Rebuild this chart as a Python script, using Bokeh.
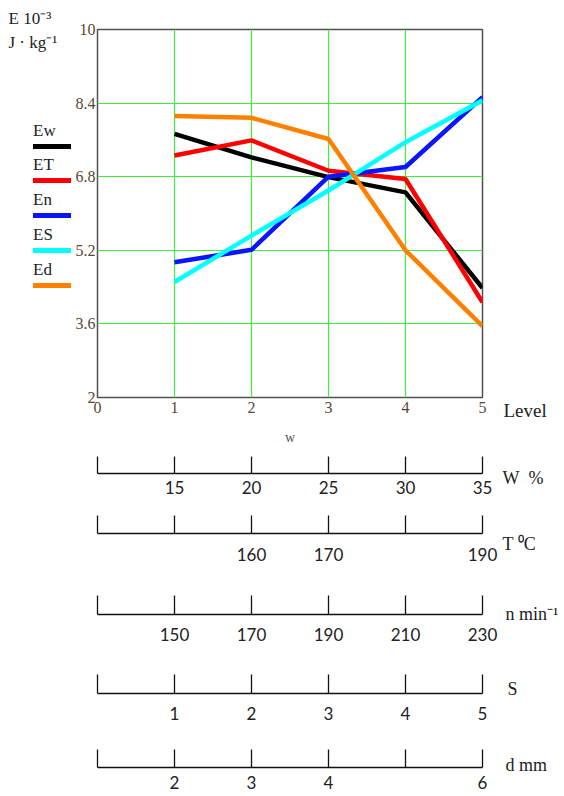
from bokeh.plotting import figure
from bokeh.models import Range1d, FixedTicker, Label, Legend, LegendItem
from bokeh.layouts import column, row
from bokeh.core.properties import value
from bokeh.embed import file_html
from bokeh.resources import INLINE

# ---------------- data ----------------
levels = [1, 2, 3, 4, 5]
Ew = [7.73, 7.22, 6.79, 6.46, 4.38]
ET = [7.26, 7.59, 6.93, 6.75, 4.07]
En = [4.94, 5.21, 6.80, 7.01, 8.53]
ES = [4.51, 5.52, 6.50, 7.55, 8.46]
Ed = [8.12, 8.08, 7.62, 5.20, 3.55]
series_names = ["Ew", "ET", "En", "ES", "Ed"]
series_values = [Ew, ET, En, ES, Ed]
series_colors = ["#000000", "#ff0000", "#0a14ff", "#00ffff", "#ff8000"]

x_ticks = [0, 1, 2, 3, 4, 5]
y_ticks = [2, 3.6, 5.2, 6.8, 8.4, 10]
y_tick_labels = ["2", "3.6", "5.2", "6.8", "8.4", "10"]

scale_positions = [0, 1, 2, 3, 4, 5]
W_labels = ["", "15", "20", "25", "30", "35"]
T_labels = ["", "", "160", "170", "", "190"]
n_labels = ["", "150", "170", "190", "210", "230"]
S_labels = ["", "1", "2", "3", "4", "5"]
d_labels = ["", "2", "3", "4", "", "6"]
scale_units = ["W\u00a0\u00a0%", "T ⁰C", "n min⁻¹", "S", "d mm"]

SERIF = "Liberation Serif"
NUMFONT = "Lato"
TICK_COL = "#5a4632"
TXT_COL = "#222222"

H = 796
LW, MW, RW = 72, 426, 66          # left strip, middle column, right strip
MLB, MRB = 23, 16                 # borders of the middle column figures


def strip(x0, x1):
    """A figure whose frame is its whole canvas, in page pixel coordinates."""
    f = figure(width=x1 - x0, height=H, x_range=Range1d(x0, x1), y_range=Range1d(H, 0),
               output_backend="svg", toolbar_location=None,
               x_axis_location=None, y_axis_location=None, min_border=0)
    f.outline_line_color = None
    f.grid.visible = False
    f.background_fill_color = "white"
    f.border_fill_color = "white"
    return f


# ---------------- main chart ----------------
p = figure(width=MW, height=452, x_range=Range1d(0, 5), y_range=Range1d(2, 10),
           output_backend="svg", toolbar_location=None,
           min_border_left=MLB, min_border_right=MRB, min_border_top=29, min_border_bottom=55)
p.outline_line_color = "#505050"
p.outline_line_width = 1.5
p.background_fill_color = "white"
p.border_fill_color = "white"

for ax in (p.xaxis[0], p.yaxis[0]):
    ax.axis_line_color = None
    ax.major_tick_line_color = None
    ax.minor_tick_line_color = None
    ax.major_tick_in = 0
    ax.major_tick_out = 0
    ax.minor_tick_in = 0
    ax.minor_tick_out = 0
    ax.major_label_text_font = SERIF
    ax.major_label_text_font_size = "16px"
    ax.major_label_text_color = TICK_COL
p.xaxis.major_label_standoff = 4
p.yaxis.major_label_standoff = 2
p.xaxis.ticker = FixedTicker(ticks=x_ticks)
p.yaxis.ticker = FixedTicker(ticks=y_ticks)
p.yaxis.major_label_overrides = {t: l for t, l in zip(y_ticks, y_tick_labels)}
p.xaxis.axis_label = "w"
p.xaxis.axis_label_text_font = SERIF
p.xaxis.axis_label_text_font_size = "14px"
p.xaxis.axis_label_text_font_style = "normal"
p.xaxis.axis_label_text_color = "#555555"
p.xaxis.axis_label_standoff = 14

p.xgrid.ticker = FixedTicker(ticks=x_ticks[1:-1])
p.ygrid.ticker = FixedTicker(ticks=y_ticks[1:-1])
for g in (p.xgrid[0], p.ygrid[0]):
    g.grid_line_color = "#3cf03c"
    g.grid_line_width = 1.2

for vals, col in zip(series_values, series_colors):
    p.line(levels, vals, line_color=col, line_width=4.5)


# ---------------- parameter scales ----------------
def scale_fig(labels, top, tick, bottom, standoff):
    f = figure(width=MW, height=top + tick + bottom, x_range=Range1d(0, 5),
               y_range=Range1d(0, 1), output_backend="svg", toolbar_location=None,
               min_border_left=MLB, min_border_right=MRB,
               min_border_top=top, min_border_bottom=bottom,
               y_axis_location=None)
    f.outline_line_color = None
    f.grid.visible = False
    f.background_fill_color = "white"
    f.border_fill_color = "white"
    ax = f.xaxis[0]
    ax.ticker = FixedTicker(ticks=scale_positions)
    ax.major_label_overrides = {pos: lab for pos, lab in zip(scale_positions, labels)}
    ax.major_tick_in = tick
    ax.major_tick_out = 0
    ax.minor_tick_line_color = None
    ax.minor_tick_in = 0
    ax.minor_tick_out = 0
    ax.axis_line_color = "#111111"
    ax.axis_line_width = 1.3
    ax.major_tick_line_color = "#111111"
    ax.major_tick_line_width = 1.3
    ax.major_label_standoff = standoff
    ax.major_label_text_font = NUMFONT
    ax.major_label_text_font_size = "17px"
    ax.major_label_text_color = TXT_COL
    return f


fW = scale_fig(W_labels, top=4, tick=17, bottom=32, standoff=7)
fT = scale_fig(T_labels, top=10, tick=18, bottom=50, standoff=14)
fn = scale_fig(n_labels, top=12, tick=19, bottom=46, standoff=13)
fS = scale_fig(S_labels, top=14, tick=19, bottom=42, standoff=13)
fd = scale_fig(d_labels, top=14, tick=18, bottom=29, standoff=8)

# ---------------- left strip: heading and legend ----------------
L = strip(0, LW)
L.add_layout(Label(x=8, y=18, text="E 10⁻³", text_font=SERIF, text_font_size="17px",
                   text_color=TXT_COL, text_baseline="middle", text_align="left"))
L.add_layout(Label(x=8, y=42, text="J · kg⁻¹", text_font=SERIF, text_font_size="17px",
                   text_color=TXT_COL, text_baseline="middle", text_align="left"))
legend_bottoms = [646, 612, 577, 542, 507]   # px from the strip's bottom edge
nan = float("nan")
for name, col, yb in zip(series_names, series_colors, legend_bottoms):
    # legend key only: the series itself is drawn in the main chart
    r = L.line(x=[nan, nan], y=[nan, nan], line_color=col, line_width=5, line_cap="round")
    lg = Legend(items=[LegendItem(label=value(" "), renderers=[r])],
                title=name, location=(33, yb), orientation="vertical",
                padding=0, margin=0, spacing=0,
                glyph_width=38, glyph_height=8, label_height=8, label_width=1,
                label_standoff=0, label_text_font_size="6px",
                title_text_font=SERIF, title_text_font_size="17px",
                title_text_font_style="normal", title_text_color=TXT_COL,
                title_standoff=1,
                border_line_color=None, background_fill_alpha=0)
    L.add_layout(lg)

# ---------------- right strip: axis names ----------------
R = strip(LW + MW, LW + MW + RW)
R.add_layout(Label(x=503, y=410, text="Level", text_font=SERIF, text_font_size="19px",
                   text_color=TXT_COL, text_baseline="middle", text_align="left"))
unit_pos = [(502, 477), (502, 543), (505, 613), (507, 688), (505, 764)]
for unit, (ux, uy) in zip(scale_units, unit_pos):
    R.add_layout(Label(x=ux, y=uy, text=unit, text_font=SERIF, text_font_size="18px",
                       text_color=TXT_COL, text_baseline="middle", text_align="left"))

middle = column(p, fW, fT, fn, fS, fd, spacing=0)
layout = row(L, middle, R, spacing=0)

open("out.html", "w").write(file_html(layout, INLINE))
